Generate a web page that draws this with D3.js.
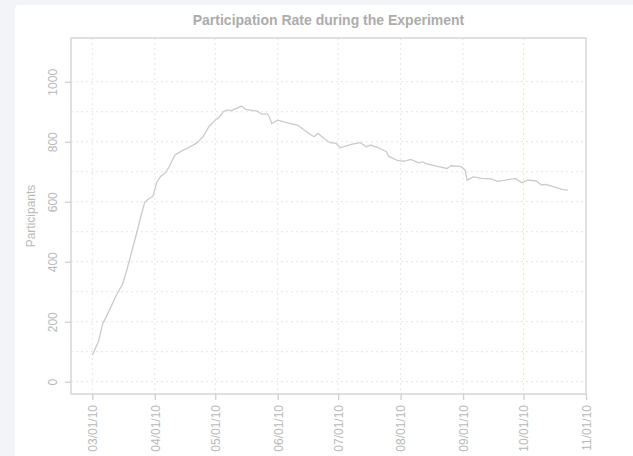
<!DOCTYPE html>
<html>
<head>
<meta charset="utf-8">
<script src="https://cdn.jsdelivr.net/npm/d3@7"></script>
<style>
  body { margin: 0; background: #f2f4f7; }
  svg { display: block; font-family: "Liberation Sans", Arial, sans-serif; }
</style>
</head>
<body>
<svg id="chart" width="633" height="456"></svg>
<script>
var obsDates = ["2010-03-01","2010-03-04","2010-03-06","2010-03-09","2010-03-13","2010-03-16","2010-03-18",
  "2010-03-21","2010-03-23","2010-03-25","2010-03-27","2010-03-29","2010-03-31","2010-04-02","2010-04-04",
  "2010-04-06","2010-04-08","2010-04-11","2010-04-14","2010-04-17","2010-04-20","2010-04-22","2010-04-25",
  "2010-04-28","2010-05-01","2010-05-03","2010-05-05","2010-05-07","2010-05-09","2010-05-10","2010-05-12",
  "2010-05-14","2010-05-16","2010-05-19","2010-05-22","2010-05-24","2010-05-27","2010-05-28","2010-05-29",
  "2010-06-01","2010-06-05","2010-06-08","2010-06-11","2010-06-14","2010-06-16","2010-06-19","2010-06-21",
  "2010-06-24","2010-06-27","2010-06-30","2010-07-02","2010-07-05","2010-07-08","2010-07-12","2010-07-15",
  "2010-07-17","2010-07-21","2010-07-25","2010-07-26","2010-07-30","2010-08-02","2010-08-04","2010-08-06",
  "2010-08-10","2010-08-12","2010-08-14","2010-08-20","2010-08-24","2010-08-26","2010-08-31","2010-09-02",
  "2010-09-03","2010-09-06","2010-09-10","2010-09-15","2010-09-18","2010-09-22","2010-09-27","2010-09-30",
  "2010-10-03","2010-10-07","2010-10-10","2010-10-12","2010-10-17","2010-10-20","2010-10-23"];
var participants = [88,133,190,232,290,325,370,
  445,495,550,598,610,617,665,685,
  695,715,756,768,778,789,797,817,
  852,872,882,900,906,903,907,912,
  919,908,905,902,892,892,880,861,
  872,865,860,855,840,830,817,828,
  811,797,795,780,786,792,797,783,
  789,780,767,752,739,735,737,741,
  730,733,726,717,711,720,717,706,
  672,683,678,676,668,672,678,663,
  672,670,656,658,648,641,639];

var monthTicks = ["2010-03-01","2010-04-01","2010-05-01","2010-06-01","2010-07-01","2010-08-01",
  "2010-09-01","2010-10-01","2010-11-01"];
var highlightMonths = ["2010-05-01","2010-10-01"];
var yTicks = [0, 200, 400, 600, 800, 1000];
var yGrid = d3.range(0, 1001, 100);
var xLimits = ["2010-02-18T10:00", "2010-11-01T00:00"];
var yLimits = [-41, 1146];

var parse = d3.timeParse("%Y-%m-%d");
var parseT = d3.timeParse("%Y-%m-%dT%H:%M");
var fmt = d3.timeFormat("%m/%d/%y");

var svg = d3.select("#chart");
var plotL = 71, plotR = 586, plotT = 38, plotB = 394;

svg.append("rect").attr("x", 15).attr("y", 5).attr("width", 640).attr("height", 470)
  .attr("rx", 4).attr("fill", "#fff");

var x = d3.scaleTime().domain(xLimits.map(parseT)).range([plotL, plotR]);
var y = d3.scaleLinear().domain(yLimits).range([plotB, plotT]);

var data = obsDates.map(function(d, i) { return { date: parse(d), value: participants[i] }; });

// grid
svg.append("g").selectAll("line").data(yGrid).enter().append("line")
  .attr("x1", plotL).attr("x2", plotR)
  .attr("y1", function(d) { return y(d); }).attr("y2", function(d) { return y(d); })
  .attr("stroke", "#e4e4e4").attr("stroke-dasharray", "2,3");

svg.append("g").selectAll("line").data(monthTicks.slice(0, -1)).enter().append("line")
  .attr("y1", plotT).attr("y2", plotB)
  .attr("x1", function(d) { return x(parse(d)); }).attr("x2", function(d) { return x(parse(d)); })
  .attr("stroke", function(d) { return highlightMonths.indexOf(d) >= 0 ? "#fbe2c4" : "#e6e6e6"; })
  .attr("stroke-dasharray", "2,3");

// line
var line = d3.line().x(function(d) { return x(d.date); }).y(function(d) { return y(d.value); });
svg.append("path").datum(data).attr("d", line)
  .attr("fill", "none").attr("stroke", "#cbcbcb").attr("stroke-width", 1.3);

// box
svg.append("rect").attr("x", plotL).attr("y", plotT).attr("width", plotR - plotL).attr("height", plotB - plotT)
  .attr("fill", "none").attr("stroke", "#d6d6d6").attr("stroke-width", 1.5);

// x axis
var xAxis = svg.append("g").attr("transform", "translate(0," + plotB + ")")
  .call(d3.axisBottom(x).tickValues(monthTicks.map(parse)).tickFormat(fmt).tickSize(6));
xAxis.select(".domain").remove();
xAxis.selectAll(".tick line").attr("stroke", "#d0d0d0").attr("stroke-width", 1.3);
xAxis.selectAll(".tick text")
  .attr("transform", "rotate(-90)")
  .attr("x", -11).attr("y", 0).attr("dy", "0.36em")
  .style("text-anchor", "end")
  .attr("fill", "#b9b9b9").style("font-size", "12px");

// y axis
var yAxis = svg.append("g").attr("transform", "translate(" + plotL + ",0)")
  .call(d3.axisLeft(y).tickValues(yTicks).tickFormat(d3.format("d")).tickSize(6));
yAxis.select(".domain").remove();
yAxis.selectAll(".tick line").attr("stroke", "#d0d0d0").attr("stroke-width", 1.3);
yAxis.selectAll(".tick text")
  .attr("transform", "rotate(-90)")
  .attr("x", 0).attr("y", -14).attr("dy", 0)
  .style("text-anchor", "middle")
  .attr("fill", "#b9b9b9").style("font-size", "12px");

svg.append("text").attr("transform", "translate(35," + ((plotT + plotB) / 2) + ") rotate(-90)")
  .attr("text-anchor", "middle").attr("fill", "#b9b9b9").style("font-size", "12px")
  .text("Participants");

svg.append("text").attr("x", (plotL + plotR) / 2).attr("y", 25)
  .attr("text-anchor", "middle").attr("fill", "#acacac")
  .style("font-size", "14px").style("font-weight", "bold")
  .text("Participation Rate during the Experiment");
</script>
</body>
</html>
